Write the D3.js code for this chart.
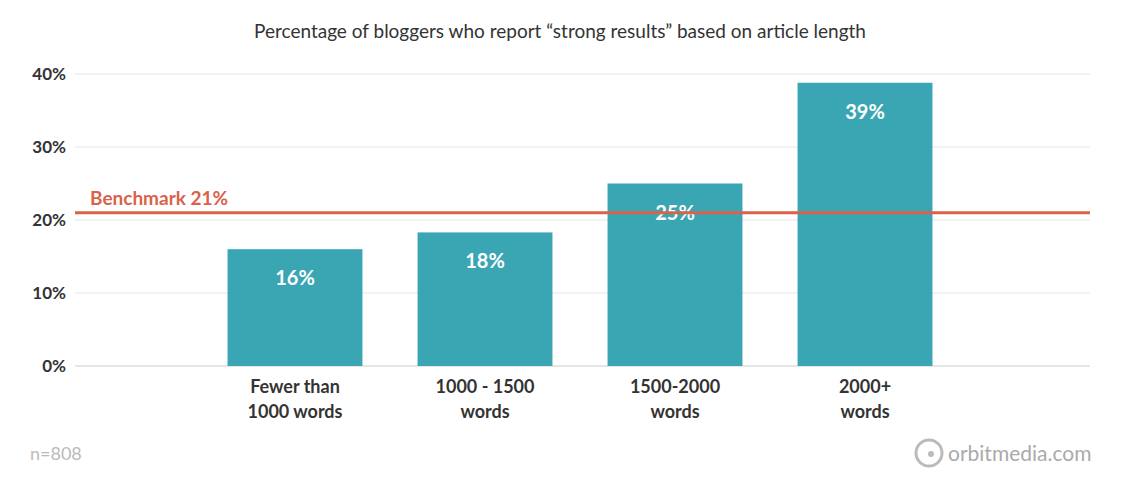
<!DOCTYPE html>
<html><head><meta charset="utf-8">
<script src="https://cdn.jsdelivr.net/npm/d3@7"></script>
<style>body{margin:0;background:#fff;font-family:Lato,"Open Sans",sans-serif}</style>
</head><body><svg id="c" width="1144" height="504"></svg>
<script>
const categories = [["Fewer than","1000 words"],["1000 - 1500","words"],["1500-2000","words"],["2000+","words"]];
const values = [16, 18.3, 25, 38.8];
const valueLabels = ["16%","18%","25%","39%"];
const yTicks = [0,10,20,30,40];
const benchmark = 21;

const svg = d3.select("#c");
const y = d3.scaleLinear().domain([0,40]).range([366,74]);
const x = d3.scaleBand().domain(d3.range(categories.length)).range([200,960]).paddingInner(0.29).paddingOuter(0.145);

svg.append("text").attr("x",560).attr("y",38).attr("text-anchor","middle")
  .attr("font-size",19).attr("fill","#333").text("Percentage of bloggers who report “strong results” based on article length");

const g = svg.append("g");
g.selectAll("line.grid").data(yTicks).join("line")
  .attr("x1",75).attr("x2",1090).attr("y1",d=>y(d)).attr("y2",d=>y(d))
  .attr("stroke",d=>d===0?"#ccc":"#e6e6e6").attr("stroke-width",1);
g.selectAll("text.yt").data(yTicks).join("text")
  .attr("x",66).attr("y",d=>y(d)+6).attr("text-anchor","end")
  .attr("font-size",17).attr("font-weight",700).attr("fill","#333").text(d=>d+"%");

g.selectAll("rect").data(values).join("rect")
  .attr("x",(d,i)=>x(i)).attr("width",x.bandwidth())
  .attr("y",d=>y(d)).attr("height",d=>y(0)-y(d)).attr("fill","#3aa6b3");

g.selectAll("text.vl").data(values).join("text")
  .attr("x",(d,i)=>x(i)+x.bandwidth()/2).attr("y",d=>y(d)+36)
  .attr("text-anchor","middle").attr("font-size",20).attr("font-weight",700)
  .attr("fill","#fff").text((d,i)=>valueLabels[i]);

categories.forEach((c,i)=>{
  c.forEach((t,j)=>svg.append("text").attr("x",x(i)+x.bandwidth()/2).attr("y",393+j*25)
    .attr("text-anchor","middle").attr("font-size",18).attr("font-weight",700).attr("fill","#333").text(t));
});

svg.append("line").attr("x1",75).attr("x2",1090).attr("y1",y(benchmark)).attr("y2",y(benchmark))
  .attr("stroke","#d9624a").attr("stroke-width",3);
svg.append("text").attr("x",90).attr("y",y(benchmark)-8).attr("font-size",19).attr("font-weight",700)
  .attr("fill","#d9624a").text("Benchmark "+benchmark+"%");

svg.append("text").attr("x",30).attr("y",460).attr("font-size",18).attr("fill","#bbb").text("n=808");
svg.append("circle").attr("cx",929).attr("cy",453).attr("r",13).attr("fill","none").attr("stroke","#bbb").attr("stroke-width",3);
svg.append("circle").attr("cx",931).attr("cy",454).attr("r",3).attr("fill","#bbb");
svg.append("text").attr("x",948).attr("y",461).attr("font-size",21).attr("fill","#aaa").text("orbitmedia.com");
</script></body></html>
